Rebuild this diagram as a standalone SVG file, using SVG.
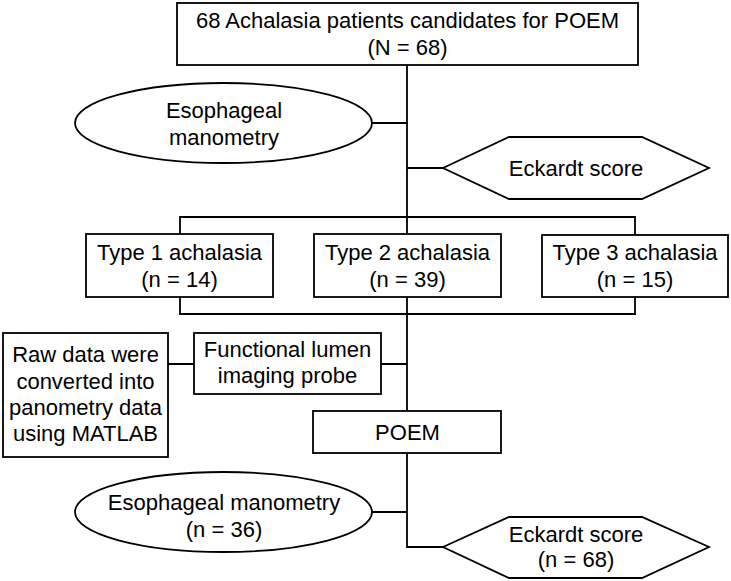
<svg xmlns="http://www.w3.org/2000/svg" width="731" height="581" viewBox="0 0 731 581">
<style>
.s{fill:#fff;stroke:#000;stroke-width:1.8}
.c{fill:none;stroke:#000;stroke-width:1.8}
text{font-family:"Liberation Sans",Arial,sans-serif;font-size:22px;fill:#000;text-anchor:middle}
</style>
<rect width="731" height="581" fill="#fff"/>
<g id="connectors">
<path class="c" d="M407,65V234M372,123H407M407,168H443M180,234V217H635V235"/>
<path class="c" d="M407,297V411M180,297V314H635V297M381,364H407M168,364H194"/>
<path class="c" d="M407,453V547H443M372,512H407"/>
</g>
<g id="n-top">
<rect class="s" x="177" y="3" width="461" height="62"/>
<text x="407.5" y="28">68 Achalasia patients candidates for POEM</text>
<text x="407.5" y="55">(N = 68)</text>
</g>
<g id="n-mano1">
<ellipse class="s" cx="223.5" cy="123" rx="148.5" ry="40"/>
<text x="224" y="118">Esophageal</text>
<text x="224" y="145">manometry</text>
</g>
<g id="n-eck1">
<polygon class="s" points="443,168 509,137 642,137 709,168 642,199 509,199"/>
<text x="576" y="176">Eckardt score</text>
</g>
<g id="n-type1">
<rect class="s" x="86" y="234" width="187" height="63"/>
<text x="179.5" y="260">Type 1 achalasia</text>
<text x="179.5" y="287">(n = 14)</text>
</g>
<g id="n-type2">
<rect class="s" x="314" y="234" width="187" height="63"/>
<text x="407.5" y="260">Type 2 achalasia</text>
<text x="407.5" y="287">(n = 39)</text>
</g>
<g id="n-type3">
<rect class="s" x="542" y="235" width="186" height="62"/>
<text x="635" y="260">Type 3 achalasia</text>
<text x="635" y="287">(n = 15)</text>
</g>
<g id="n-flip">
<rect class="s" x="194" y="333" width="187" height="61"/>
<text x="287.5" y="357">Functional lumen</text>
<text x="287.5" y="383">imaging probe</text>
</g>
<g id="n-raw">
<rect class="s" x="3" y="333" width="165" height="124"/>
<text x="85.5" y="362">Raw data were</text>
<text x="85.5" y="389">converted into</text>
<text x="85.5" y="415">panometry data</text>
<text x="85.5" y="441">using MATLAB</text>
</g>
<g id="n-poem">
<rect class="s" x="313" y="411" width="188" height="42"/>
<text x="407.5" y="440">POEM</text>
</g>
<g id="n-mano2">
<ellipse class="s" cx="223.5" cy="512" rx="148.5" ry="40"/>
<text x="224" y="510">Esophageal manometry</text>
<text x="224" y="537">(n = 36)</text>
</g>
<g id="n-eck2">
<polygon class="s" points="443,547 509,517 642,517 709,547 642,578 509,578"/>
<text x="576" y="542">Eckardt score</text>
<text x="576" y="567">(n = 68)</text>
</g>
</svg>
